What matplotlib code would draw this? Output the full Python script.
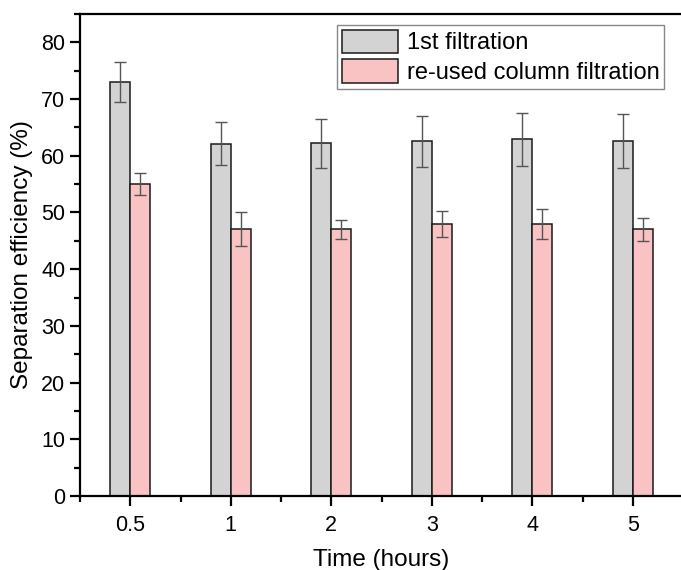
import numpy as np
import matplotlib.pyplot as plt
from matplotlib.ticker import MultipleLocator, FixedLocator

plt.rcParams['font.family'] = ['Liberation Sans', 'DejaVu Sans']

times = ['0.5', '1', '2', '3', '4', '5']
first = [73.0, 62.1, 62.2, 62.6, 62.9, 62.6]
first_err = [3.5, 3.8, 4.3, 4.5, 4.7, 4.7]
reused = [55.0, 47.0, 47.0, 48.0, 48.0, 47.0]
reused_err = [2.0, 3.0, 1.6, 2.3, 2.6, 2.1]

fig = plt.figure(figsize=(6.81, 5.70), dpi=100)
ax = fig.add_axes([80 / 681, 74 / 570, 603 / 681, 482 / 570])

x = np.arange(len(times))
w = 0.2
err_kw = dict(ecolor='#555555', elinewidth=1.0, capthick=1.0)
ax.bar(x - w / 2, first, w, yerr=first_err, capsize=4.5, color='#d3d3d3',
       edgecolor='#1a1a1a', linewidth=1.1, error_kw=err_kw, label='1st filtration')
ax.bar(x + w / 2, reused, w, yerr=reused_err, capsize=4.5, color='#f9c3c3',
       edgecolor='#1a1a1a', linewidth=1.1, error_kw=err_kw,
       label='re-used column filtration')

ax.set_xlim(-0.5, 5.5)
ax.set_ylim(0, 85)
ax.set_xticks(x)
ax.set_xticklabels(times)
ax.xaxis.set_minor_locator(FixedLocator(np.append(x - 0.5, 5.5)))
ax.yaxis.set_major_locator(MultipleLocator(10))
ax.yaxis.set_minor_locator(MultipleLocator(5))

for s in ['left', 'bottom', 'top']:
    ax.spines[s].set_linewidth(1.6)
ax.spines['right'].set_visible(False)
ax.tick_params(which='major', direction='out', length=7, width=1.6, labelsize=15.5)
ax.tick_params(which='minor', direction='out', length=4, width=1.6)
ax.tick_params(axis='x', pad=7)

ax.set_xlabel('Time (hours)', fontsize=17.5, labelpad=9)
ax.set_ylabel('Separation efficiency (%)', fontsize=17.5, labelpad=6)

leg = ax.legend(loc='upper right', bbox_to_anchor=(584 / 603, 1 - 11 / 482),
                fontsize=17, handlelength=2.4, handleheight=1.15,
                handletextpad=0.35, borderpad=0.2, labelspacing=0.2,
                fancybox=False, framealpha=1, borderaxespad=0)
leg.get_frame().set_edgecolor('#888888')
leg.get_frame().set_linewidth(1.0)

fig.savefig('out.png', dpi=100)
